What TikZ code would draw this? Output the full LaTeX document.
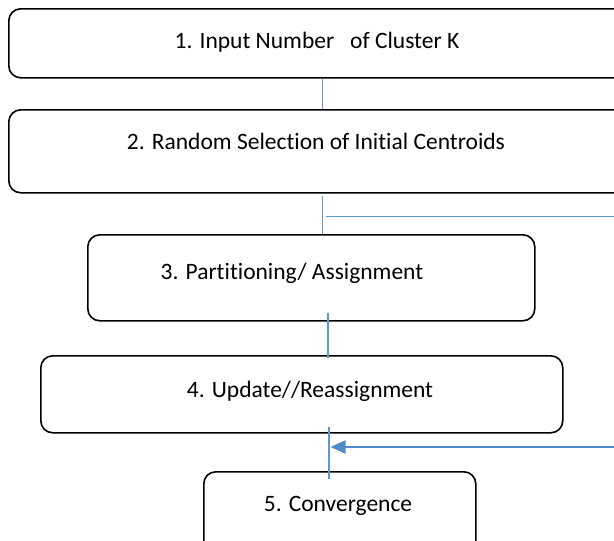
\documentclass[tikz,border=0pt]{standalone}
\usepackage{fontspec}
\setmainfont{Carlito}[Ligatures={NoCommon}]
\usetikzlibrary{arrows.meta}
\definecolor{thinblue}{RGB}{91,155,213}
\definecolor{arrowblue}{RGB}{80,138,205}
\begin{document}
\begin{tikzpicture}[x=1pt,y=-1pt,
  stepbox/.style={draw=black,line width=1.6pt,rounded corners=12pt,anchor=north west,inner sep=0pt},
  steptext/.style={font=\fontsize{23.5}{28}\selectfont,inner sep=0pt,anchor=base},
  link/.style={draw=thinblue,line width=1.2pt},
  backarrow/.style={draw=arrowblue,line width=2.2pt,-{Triangle[length=15pt,width=13pt]}}]
\useasboundingbox (0,0) rectangle (614,541);
\clip (0,0) rectangle (614,541);
\fill[white] (0,0) rectangle (614,541);
% boxes
\node[stepbox,minimum width=622pt,minimum height=69pt] (b1) at (8,8) {};
\node[stepbox,minimum width=622pt,minimum height=83pt] (b2) at (8,109) {};
\node[stepbox,minimum width=447pt,minimum height=86pt] (b3) at (87,234) {};
\node[stepbox,minimum width=522pt,minimum height=77pt] (b4) at (40,355) {};
\node[stepbox,minimum width=272pt,minimum height=90pt] (b5) at (203,471) {};
% texts
\node[steptext] (t1) at (317,48) {1. Input Number\ \ \ of Cluster K};
\node[steptext] (t2) at (316,149) {2. Random Selection of Initial Centroids};
\node[steptext] (t3) at (292,279) {3. Partitioning/ Assignment};
\node[steptext] (t4) at (310,397) {4. Update//Reassignment};
\node[steptext] (t5) at (338,511) {5. Convergence};
% connector end points
\coordinate (c1a) at (322.5,78);
\coordinate (c1b) at (322.5,109);
\coordinate (c2a) at (322.5,196);
\coordinate (c2b) at (322.5,234);
\coordinate (h2a) at (326,216.5);
\coordinate (h2b) at (640,216.5);
\coordinate (c3a) at (328,312.5);
\coordinate (c3b) at (328,358);
\coordinate (c4a) at (329,427);
\coordinate (c4b) at (329,479);
\coordinate (r4a) at (640,447);
\coordinate (r4b) at (330.5,447);
% connectors
\draw[link] (b1.south -| c1a) -- (b2.north -| c1b);
\draw[link] (c2a) -- (b3.north -| c2b);
\draw[link] (h2a) -- (h2b);
\draw[link] (c3a) -- (c3b);
\draw[link] (c4a) -- (c4b);
\draw[backarrow] (r4a) -- (r4b);
\end{tikzpicture}
\end{document}
